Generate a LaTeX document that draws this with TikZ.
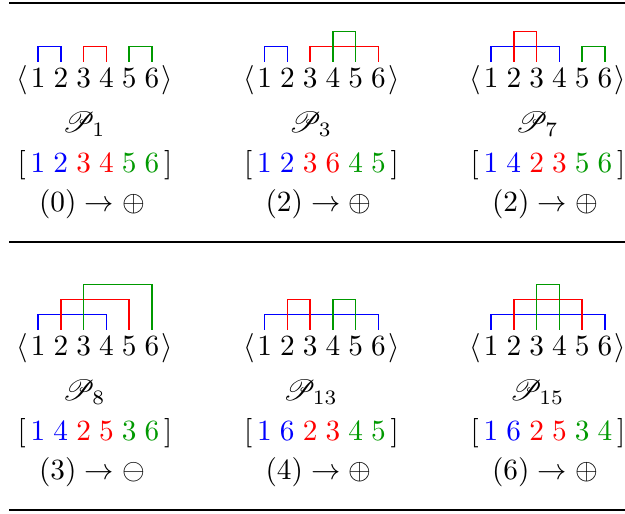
\documentclass[tikz,border=0pt]{standalone}
\usepackage{amsmath,amssymb}
\usepackage{mathrsfs}
\usepackage{xcolor}
\usepackage{tikz}
\usetikzlibrary{calc}
\definecolor{ink}{HTML}{000000}
\definecolor{pairA}{HTML}{0000FF}
\definecolor{pairB}{HTML}{FF0000}
\definecolor{pairC}{HTML}{009900}
\newcommand{\bA}[1]{\textcolor{pairA}{#1}}
\newcommand{\bB}[1]{\textcolor{pairB}{#1}}
\newcommand{\bC}[1]{\textcolor{pairC}{#1}}
\tikzset{
  rule/.style={draw=ink, line width=0.6pt},
  dig/.style={inner sep=2pt, anchor=base, text=ink},
  fence/.style={inner sep=0pt, anchor=base, text=ink},
  t/.style={inner sep=0pt, anchor=base, text=ink},
  arc/.style={draw=#1, line width=0.45pt},
}

\begin{document}
\begin{tikzpicture}[x=0.012cm, y=-0.012cm]
  \useasboundingbox (0,0) rectangle (625,513);

  \draw[rule, line width=0.8pt] (9,3) -- (625,3);
  \draw[rule] (9,242) -- (625,242);
  \draw[rule, line width=0.8pt] (9,510) -- (625,510);

  % the six index rows
  \foreach \nm/\cx/\cy in {P1/95/87, P3/321.5/87, P7/548/87, P8/95/355, P13/321.5/355, P15/548/355} {
    \node[fence] (\nm-l) at (\cx-72.5,\cy) {$\langle$};
    \foreach \i in {1,...,6}
      \node[dig] (\nm-\i) at ({\cx+(\i-3.5)*22.75},\cy) {$\i$};
    \node[fence] (\nm-r) at (\cx+72.5,\cy) {$\rangle$};
  }

  % pairings, level 1 = lowest bar
  \foreach \nm/\a/\b/\col/\lev in {
      P1/1/2/pairA/1, P1/3/4/pairB/1, P1/5/6/pairC/1,
      P3/1/2/pairA/1, P3/3/6/pairB/1, P3/4/5/pairC/2,
      P7/1/4/pairA/1, P7/2/3/pairB/2, P7/5/6/pairC/1,
      P8/1/4/pairA/1, P8/2/5/pairB/2, P8/3/6/pairC/3,
      P13/1/6/pairA/1, P13/2/3/pairB/2, P13/4/5/pairC/2,
      P15/1/6/pairA/1, P15/2/5/pairB/2, P15/3/4/pairC/3} {
    \draw[arc=\col] (\nm-\a.north) -- ++(0,-15*\lev) -| (\nm-\b.north);
  }

  \node[t] (P1-name) at (84,132) {$\mathscr{P}_{1}$};
  \node[t] (P1-seq) at (95,172) {$[\,\bA{1}\;\bA{2}\;\bB{3}\;\bB{4}\;\bC{5}\;\bC{6}\,]$};
  \node[t] (P1-op) at (92,211) {$(0)\rightarrow\oplus$};

  \node[t] (P3-name) at (310.5,132) {$\mathscr{P}_{3}$};
  \node[t] (P3-seq) at (321.5,172) {$[\,\bA{1}\;\bA{2}\;\bB{3}\;\bB{6}\;\bC{4}\;\bC{5}\,]$};
  \node[t] (P3-op) at (318.5,211) {$(2)\rightarrow\oplus$};

  \node[t] (P7-name) at (537,132) {$\mathscr{P}_{7}$};
  \node[t] (P7-seq) at (548,172) {$[\,\bA{1}\;\bA{4}\;\bB{2}\;\bB{3}\;\bC{5}\;\bC{6}\,]$};
  \node[t] (P7-op) at (545,211) {$(2)\rightarrow\oplus$};

  \node[t] (P8-name) at (84,400) {$\mathscr{P}_{8}$};
  \node[t] (P8-seq) at (95,440) {$[\,\bA{1}\;\bA{4}\;\bB{2}\;\bB{5}\;\bC{3}\;\bC{6}\,]$};
  \node[t] (P8-op) at (92,479) {$(3)\rightarrow\ominus$};

  \node[t] (P13-name) at (310.5,400) {$\mathscr{P}_{13}$};
  \node[t] (P13-seq) at (321.5,440) {$[\,\bA{1}\;\bA{6}\;\bB{2}\;\bB{3}\;\bC{4}\;\bC{5}\,]$};
  \node[t] (P13-op) at (318.5,479) {$(4)\rightarrow\oplus$};

  \node[t] (P15-name) at (537,400) {$\mathscr{P}_{15}$};
  \node[t] (P15-seq) at (548,440) {$[\,\bA{1}\;\bA{6}\;\bB{2}\;\bB{5}\;\bC{3}\;\bC{4}\,]$};
  \node[t] (P15-op) at (545,479) {$(6)\rightarrow\oplus$};
\end{tikzpicture}
\end{document}
